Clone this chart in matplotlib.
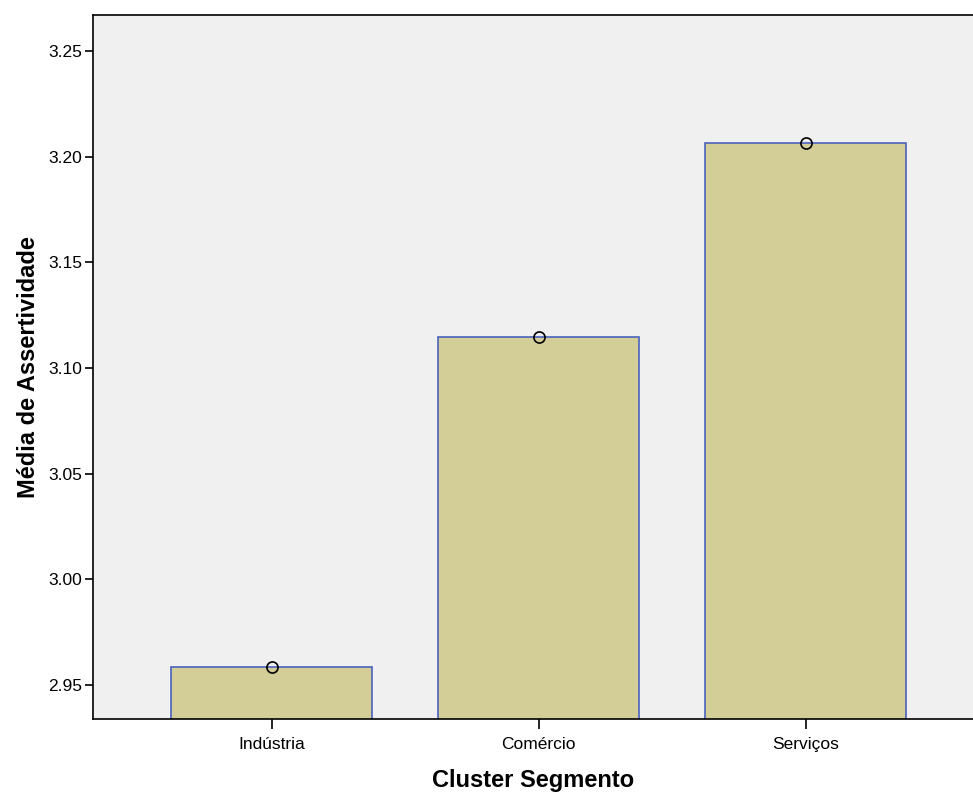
import numpy as np
import matplotlib.pyplot as plt

# -----------------------------
# DATA
# -----------------------------
categories = ["Indústria", "Comércio", "Serviços"]
means = [2.9585, 3.1147, 3.2066]
yticks = [2.95, 3.00, 3.05, 3.10, 3.15, 3.20, 3.25]

plt.rcParams['font.family'] = ['Liberation Sans', 'DejaVu Sans']

fig = plt.figure(figsize=(9.73, 7.96), dpi=100)
ax = fig.add_axes([93/973, 1 - 719/796, 1 - 93/973, (719 - 15)/796])
ax.set_facecolor("#F0F0F0")

x = np.arange(len(categories))
ax.bar(x, means, width=0.75, color="#D3CE97", edgecolor="#4A62BC", linewidth=1.2, zorder=2)
ax.plot(x, means, "o", mfc="none", mec="black", ms=8, mew=1.2, zorder=3)

ax.set_xlim(-0.6685, 2.627)
ax.set_ylim(2.9339, 3.267)
ax.set_xticks(x)
ax.set_xticklabels(categories, fontsize=12.5)
ax.set_yticks(yticks)
ax.set_yticklabels([f"{v:.2f}" for v in yticks], fontsize=12.5)
ax.tick_params(axis="x", direction="out", length=7, width=1.2, pad=6)
ax.tick_params(axis="y", direction="out", length=6, width=1.2, pad=2)

ax.spines["right"].set_visible(False)
for s in ["left", "top", "bottom"]:
    ax.spines[s].set_linewidth(1.2)

ax.set_xlabel("Cluster Segmento", fontsize=17, fontweight="bold", labelpad=12)
ax.set_ylabel("Média de Assertividade", fontsize=17, fontweight="bold", labelpad=6)

fig.savefig("out.png", dpi=100)
